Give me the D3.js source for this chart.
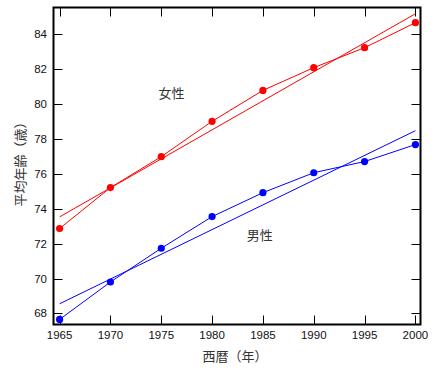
<!DOCTYPE html>
<html><head><meta charset="utf-8">
<script src="https://cdn.jsdelivr.net/npm/d3@7"></script>
<style>body{margin:0;background:#fff}svg{display:block}text{font-family:"Liberation Sans",Arial,sans-serif}</style>
</head><body><svg id="c" width="448" height="368"></svg>
<script>
const years = [1965,1970,1975,1980,1985,1990,1995,2000];
const female = [72.86,75.20,76.97,78.99,80.76,82.06,83.20,84.63];
const male = [67.66,69.80,71.73,73.54,74.91,76.05,76.69,77.66];
const xTicks = [1965,1970,1975,1980,1985,1990,1995,2000];
const yTicks = [68,70,72,74,76,78,80,82,84];
const labels = [{t:"女性",x:1976.0,y:80.6},{t:"男性",x:1984.7,y:72.5}];

const svg = d3.select("#c");
const L=53.5,R=420.5,T=7.5,B=324.5;
const x = d3.scaleLinear().domain([1964.4,2000.5]).range([L,R]);
const y = d3.scaleLinear().domain([67.37,85.5]).range([B,T]);

function fit(xs,ys){
  const mx=d3.mean(xs), my=d3.mean(ys);
  let sxy=0,sxx=0; xs.forEach((v,i)=>{sxy+=(v-mx)*(ys[i]-my);sxx+=(v-mx)*(v-mx);});
  const b=sxy/sxx; return v=>my+b*(v-mx);
}
const tk=9;
const g=svg.append("g");
g.append("rect").attr("x",L).attr("y",T).attr("width",R-L).attr("height",B-T).attr("fill","none").attr("stroke","#000").attr("stroke-width",2);
xTicks.forEach(v=>{
  const px=Math.round(x(v))+0.5;
  g.append("line").attr("x1",px).attr("x2",px).attr("y1",B).attr("y2",B-tk).attr("stroke","#000");
  g.append("line").attr("x1",px).attr("x2",px).attr("y1",T).attr("y2",T+tk).attr("stroke","#000");
  g.append("text").attr("x",x(v)).attr("y",339).attr("text-anchor","middle").attr("font-size",11.5).attr("fill","#111").text(v);
});
yTicks.forEach(v=>{
  const py=Math.round(y(v))+0.5;
  g.append("line").attr("x1",L).attr("x2",L+tk).attr("y1",py).attr("y2",py).attr("stroke","#000");
  g.append("line").attr("x1",R).attr("x2",R-tk).attr("y1",py).attr("y2",py).attr("stroke","#000");
  g.append("text").attr("x",47).attr("y",y(v)+4).attr("text-anchor","end").attr("font-size",11.5).attr("fill","#111").text(v);
});
const series=[{v:female,c:"#ff0000"},{v:male,c:"#0000ff"}];
const line=d3.line().x(d=>x(d[0])).y(d=>y(d[1]));
series.forEach(s=>{
  const f=fit(years,s.v);
  g.append("path").attr("d",line([[years[0],f(years[0])],[years[years.length-1],f(years[years.length-1])]])).attr("fill","none").attr("stroke",s.c).attr("stroke-width",1);
  g.append("path").attr("d",line(years.map((d,i)=>[d,s.v[i]]))).attr("fill","none").attr("stroke",s.c).attr("stroke-width",1);
  g.selectAll(null).data(years).enter().append("circle").attr("cx",d=>x(d)).attr("cy",(d,i)=>y(s.v[i])).attr("r",3.6).attr("fill",s.c);
});
labels.forEach(l=>{
  g.append("text").attr("x",x(l.x)).attr("y",y(l.y)+5).attr("text-anchor","middle").attr("font-size",13).attr("fill","#333").style("font-family","'Noto Sans CJK JP'").text(l.t);
});
g.append("text").attr("x",235).attr("y",361).attr("text-anchor","middle").attr("font-size",13).attr("fill","#333").style("font-family","'Noto Sans CJK JP'").text("西暦（年）");
g.append("text").attr("transform","translate(25,161) rotate(-90)").attr("text-anchor","middle").attr("font-size",13).attr("fill","#333").style("font-family","'Noto Sans CJK JP'").text("平均年齢（歳）");
</script></body></html>
